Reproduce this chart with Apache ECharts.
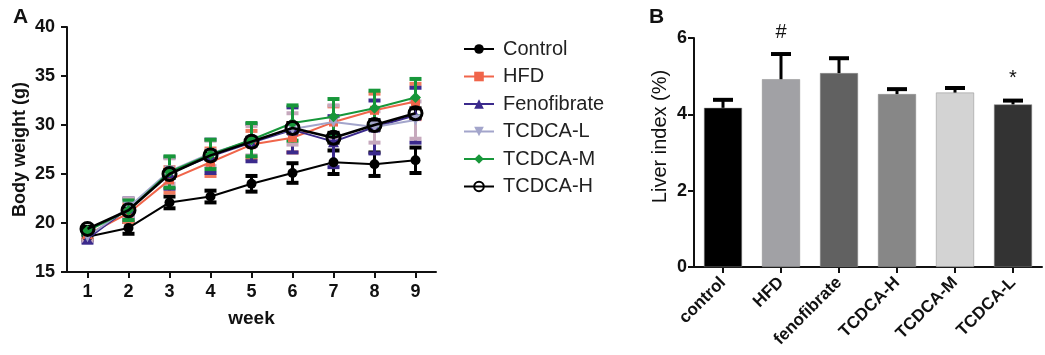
<!DOCTYPE html>
<html>
<head>
<meta charset="utf-8">
<script src="https://cdn.jsdelivr.net/npm/echarts@6/dist/echarts.min.js"></script>
<style>
  html, body { margin: 0; padding: 0; background: #fff; }
  #chart { width: 1045px; height: 355px; }
</style>
</head>
<body>
<div id="chart"></div>
<script>
// panel A: body weight by week (mean and SD)
const weeks = ['1', '2', '3', '4', '5', '6', '7', '8', '9'];
const control = [18.6, 19.5, 22.1, 22.7, 24.0, 25.1, 26.2, 26.0, 26.4];
const controlErr = [0.3, 0.6, 0.6, 0.6, 0.8, 1.0, 1.2, 1.2, 1.3];
const hfd = [18.8, 21.0, 24.4, 26.2, 28.0, 28.7, 30.3, 31.5, 32.4];
const hfdErr = [0.4, 0.9, 1.3, 1.4, 1.4, 1.5, 1.6, 1.7, 1.8];
const feno = [18.4, 21.5, 25.1, 26.8, 28.2, 29.5, 28.3, 29.8, 31.0];
const fenoErr = [0.4, 1.0, 1.6, 1.7, 1.9, 2.3, 2.6, 2.7, 2.8];
const tcdcaL = [18.6, 21.6, 25.3, 27.1, 28.4, 29.6, 30.3, 29.8, 30.5];
const tcdcaLErr = [0.4, 0.9, 1.3, 1.3, 1.5, 1.6, 1.7, 1.6, 1.9];
const tcdcaM = [19.2, 21.3, 25.2, 27.0, 28.5, 30.2, 30.85, 31.7, 32.8];
const tcdcaMErr = [0.4, 1.0, 1.6, 1.5, 1.7, 1.8, 1.8, 1.8, 1.9];
const tcdcaH = [19.4, 21.3, 25.0, 26.9, 28.3, 29.7, 28.7, 30.0, 31.2];
const tcdcaHErr = [0.2, 0.3, 0.4, 0.4, 0.4, 0.5, 0.5, 0.5, 0.5];

// panel B: liver index
const groups = ['control', 'HFD', 'fenofibrate', 'TCDCA-H', 'TCDCA-M', 'TCDCA-L'];
const liver = [4.17, 4.92, 5.08, 4.53, 4.57, 4.26];
const liverErr = [0.21, 0.66, 0.39, 0.13, 0.12, 0.10];
const liverMarks = ['', '#', '', '', '', '*'];
const barColors = ['#000000', '#a1a1a5', '#616161', '#878787', '#d3d3d3', '#333333'];

const FONT = 'Arial, "Liberation Sans", sans-serif';

const lineGroups = [
    { name: 'Control', data: control, err: controlErr, color: '#000000', errColor: '#000000', symbol: 'circle', size: 10 },
    { name: 'HFD', data: hfd, err: hfdErr, color: '#f0654a', errColor: '#f07a5e', symbol: 'rect', size: 9 },
    { name: 'Fenofibrate', data: feno, err: fenoErr, color: '#3b2a8c', errColor: '#3b2a8c', symbol: 'triangle', size: 11 },
    { name: 'TCDCA-L', data: tcdcaL, err: tcdcaLErr, color: '#a3a5cb', errColor: '#c6a9bd', symbol: 'path://M0,0 L10,0 L5,9 Z', size: 11 },
    { name: 'TCDCA-M', data: tcdcaM, err: tcdcaMErr, color: '#17973a', errColor: '#17973a', symbol: 'diamond', size: 11 },
    { name: 'TCDCA-H', data: tcdcaH, err: tcdcaHErr, color: '#000000', errColor: '#000000', symbol: 'circle', size: 13, hollow: true }
];

// error bar with caps on both sides (panel A)
const errorBarBoth = (color) => (params, api) => {
    const top = api.coord([api.value(0), api.value(2)]);
    const bot = api.coord([api.value(0), api.value(1)]);
    const hw = 6;
    return {
        type: 'group',
        children: [
            { type: 'line', shape: { x1: top[0], y1: top[1], x2: bot[0], y2: bot[1] }, style: { stroke: color, lineWidth: 3 } },
            { type: 'line', shape: { x1: top[0] - hw, y1: top[1], x2: top[0] + hw, y2: top[1] }, style: { stroke: color, lineWidth: 4 } },
            { type: 'line', shape: { x1: bot[0] - hw, y1: bot[1], x2: bot[0] + hw, y2: bot[1] }, style: { stroke: color, lineWidth: 4 } }
        ]
    };
};

const series = [];
lineGroups.forEach((g) => {
    series.push({
        name: g.name + ' SD',
        type: 'custom',
        xAxisIndex: 0,
        yAxisIndex: 0,
        z: 1,
        silent: true,
        renderItem: errorBarBoth(g.errColor),
        encode: { x: 0, y: [1, 2] },
        data: g.data.map((v, i) => [i, v - g.err[i], v + g.err[i]])
    });
});
lineGroups.forEach((g, k) => {
    series.push({
        name: g.name,
        type: 'line',
        xAxisIndex: 0,
        yAxisIndex: 0,
        z: 3 + k,
        data: g.data,
        symbol: g.symbol,
        symbolSize: g.size,
        showAllSymbol: true,
        lineStyle: { color: g.color, width: g.name === 'TCDCA-H' ? 2.5 : 2 },
        itemStyle: g.hollow
            ? { color: 'rgba(0,0,0,0)', borderColor: '#000', borderWidth: 3 }
            : { color: g.color },
        emphasis: { disabled: true }
    });
});

// panel B bars
series.push({
    name: 'liver',
    type: 'bar',
    xAxisIndex: 1,
    yAxisIndex: 1,
    barWidth: 38,
    data: liver.map((v, i) => ({ value: v, itemStyle: { color: barColors[i], borderColor: '#8a8a8a', borderWidth: 0.5 } })),
    emphasis: { disabled: true }
});
series.push({
    name: 'liver SD',
    type: 'custom',
    xAxisIndex: 1,
    yAxisIndex: 1,
    z: 3,
    silent: true,
    renderItem: (params, api) => {
        const base = api.coord([api.value(0), api.value(1)]);
        const top = api.coord([api.value(0), api.value(2)]);
        const hw = 10;
        const children = [
            { type: 'line', shape: { x1: top[0], y1: base[1], x2: top[0], y2: top[1] }, style: { stroke: '#000', lineWidth: 3 } },
            { type: 'line', shape: { x1: top[0] - hw, y1: top[1], x2: top[0] + hw, y2: top[1] }, style: { stroke: '#000', lineWidth: 4 } }
        ];
        const mark = liverMarks[params.dataIndex];
        if (mark) {
            children.push({
                type: 'text',
                style: {
                    text: mark, x: top[0], y: top[1] - 12,
                    align: 'center', verticalAlign: 'bottom',
                    font: '20px ' + FONT, fill: '#111'
                }
            });
        }
        return { type: 'group', children: children };
    },
    encode: { x: 0, y: [1, 2] },
    data: liver.map((v, i) => [i, v, v + liverErr[i]])
});

const axisLine = { show: true, lineStyle: { color: '#111', width: 2 } };
const axisTick = { show: true, length: 6, lineStyle: { color: '#111', width: 2 } };

const option = {
    animation: false,
    backgroundColor: '#fff',
    textStyle: { fontFamily: FONT },
    title: [
        { text: 'A', left: 8, top: 2, textStyle: { fontSize: 21, fontWeight: 'bold', color: '#111', fontFamily: FONT } },
        { text: 'B', left: 644, top: 2, textStyle: { fontSize: 21, fontWeight: 'bold', color: '#111', fontFamily: FONT } }
    ],
    legend: {
        data: lineGroups.map(g => g.name),
        orient: 'vertical',
        left: 458,
        top: 33,
        itemWidth: 30,
        itemHeight: 12,
        itemGap: 5.5,
        selectedMode: false,
        textStyle: { fontSize: 20, color: '#222', lineHeight: 22, fontFamily: FONT, padding: [0, 0, 0, 4] }
    },
    grid: [
        { left: 67, top: 27, width: 369, height: 245 },
        { left: 694, top: 38, width: 348, height: 229 }
    ],
    xAxis: [
        {
            type: 'category', gridIndex: 0, data: weeks,
            name: 'week', nameLocation: 'middle', nameGap: 37,
            nameTextStyle: { fontSize: 19, fontWeight: 'bold', color: '#111' },
            axisLine: axisLine,
            axisTick: { ...axisTick, alignWithLabel: true },
            axisLabel: { fontSize: 18, fontWeight: 'bold', color: '#111', margin: 11 }
        },
        {
            type: 'category', gridIndex: 1, data: groups,
            axisLine: axisLine,
            axisTick: { ...axisTick, alignWithLabel: true },
            axisLabel: { fontSize: 17, fontWeight: 'bold', color: '#111', rotate: 45, margin: 13, interval: 0 }
        }
    ],
    yAxis: [
        {
            type: 'value', gridIndex: 0, min: 15, max: 40, interval: 5,
            name: 'Body weight (g)', nameLocation: 'middle', nameGap: 38,
            nameTextStyle: { fontSize: 18, fontWeight: 'bold', color: '#111' },
            axisLine: axisLine, axisTick: axisTick,
            splitLine: { show: false },
            axisLabel: { fontSize: 18, fontWeight: 'bold', color: '#111', margin: 12 }
        },
        {
            type: 'value', gridIndex: 1, min: 0, max: 6, interval: 2,
            name: 'Liver index (%)', nameLocation: 'middle', nameGap: 24,
            nameTextStyle: { fontSize: 20, color: '#111', padding: [0, 0, 0, 32] },
            axisLine: axisLine, axisTick: axisTick,
            splitLine: { show: false },
            axisLabel: { fontSize: 18, fontWeight: 'bold', color: '#111', margin: 7 }
        }
    ],
    series: series
};

const chart = echarts.init(document.getElementById('chart'), null, { renderer: 'canvas' });
chart.setOption(option);
</script>
</body>
</html>
